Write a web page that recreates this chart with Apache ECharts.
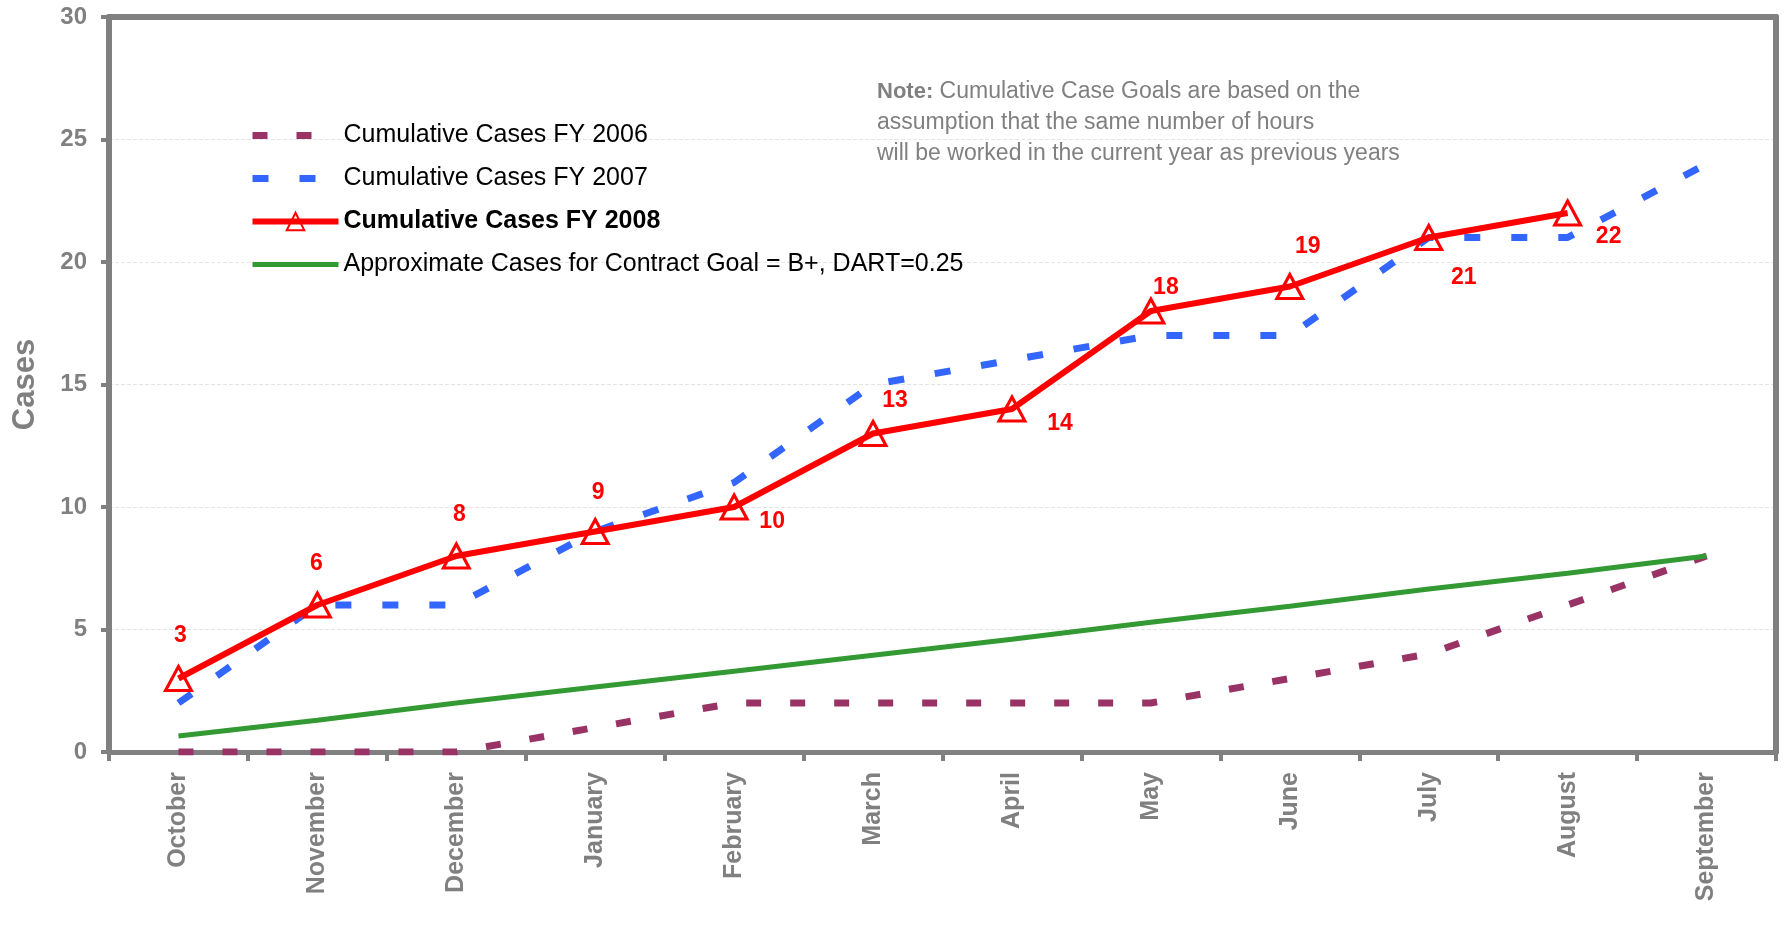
<!DOCTYPE html>
<html>
<head>
<meta charset="utf-8">
<script src="https://cdn.jsdelivr.net/npm/echarts@6/dist/echarts.min.js"></script>
<style>
    html, body { margin: 0; padding: 0; background: #fff; }
    #main { width: 1787px; height: 926px; }
</style>
</head>
<body>
<div id="main"></div>
<script>
    // months of the fiscal year
    let months = ['October', 'November', 'December', 'January', 'February', 'March',
        'April', 'May', 'June', 'July', 'August', 'September'];

    let cases2006 = [0, 0, 0, 1, 2, 2, 2, 2, 3, 4, 6, 8];
    let cases2007 = [2, 6, 6, 9, 11, 15, 16, 17, 17, 21, 21, 24];
    let cases2008 = [3, 6, 8, 9, 10, 13, 14, 18, 19, 21, 22, null];
    let goalCases = [0.65, 1.3, 2.0, 2.65, 3.3, 3.95, 4.6, 5.3, 5.95, 6.65, 7.3, 8.0];

    let yTicks = [0, 5, 10, 15, 20, 25, 30];

    // where each FY2008 label sits relative to its point
    let labelOffsets = [[2, -43], [-1, -41], [3, -41], [3, -39], [38, 15], [22, -33],
        [48, 15], [15, -23], [18, -40], [35, 40], [41, 24]];

    let names = ['Cumulative Cases FY 2006', 'Cumulative Cases FY 2007',
        'Cumulative Cases FY 2008', 'Approximate Cases for Contract Goal = B+, DART=0.25'];

    let gray = '#808080';
    let font = '"Liberation Sans", Arial, sans-serif';

    let myChart = echarts.init(document.getElementById('main'));

    let data2008 = cases2008.map(function (v, i) {
        if (v === null) return null;
        return {
            value: v,
            label: { offset: labelOffsets[i] }
        };
    });

    let dataGoal = goalCases.map(function (v, i) {
        if (i === goalCases.length - 1) {
            return {
                value: v,
                label: {
                    show: true,
                    formatter: 'B+',
                    position: 'inside',
                    offset: [-61, -66],
                    color: '#339933',
                    fontWeight: 'bold',
                    fontSize: 23,
                    fontFamily: font
                }
            };
        }
        return v;
    });

    let option = {
        animation: false,
        backgroundColor: '#fff',
        grid: {
            left: 109,
            right: 11,
            top: 17,
            bottom: 174
        },
        legend: {
            orient: 'vertical',
            left: 244,
            top: 118,
            itemWidth: 86,
            itemHeight: 22,
            itemGap: 18,
            lineStyle: { width: 'inherit' },
            data: [
                { name: names[0], itemStyle: { opacity: 0 } },
                { name: names[1], itemStyle: { opacity: 0 } },
                { name: names[2] },
                { name: names[3], itemStyle: { opacity: 0 } }
            ],
            textStyle: {
                color: '#000',
                fontSize: 25,
                fontFamily: font,
                rich: {
                    b: { fontWeight: 'bold', fontSize: 25, fontFamily: font, color: '#000' }
                }
            },
            formatter: function (name) {
                if (name === names[2]) return '{b|' + name + '}';
                return name;
            }
        },
        graphic: [
            {
                type: 'text',
                left: 877,
                top: 76,
                style: {
                    text: '{b|Note:} Cumulative Case Goals are based on the\nassumption that the same number of hours\nwill be worked in the current year as previous years',
                    fill: gray,
                    font: '23px ' + font,
                    lineHeight: 31,
                    rich: {
                        b: { fontWeight: 'bold', fontSize: 22, fontFamily: font, fill: gray, lineHeight: 31 }
                    }
                }
            }
        ],
        xAxis: [
            {
                type: 'category',
                data: months,
                boundaryGap: true,
                axisLine: { lineStyle: { color: gray, width: 5 } },
                axisTick: { show: true, length: 9, lineStyle: { color: gray, width: 4 } },
                axisLabel: {
                    rotate: 90,
                    margin: 20,
                    color: gray,
                    fontWeight: 'bold',
                    fontSize: 25,
                    fontFamily: font
                }
            },
            {
                // top edge of the plot box
                type: 'category',
                data: months,
                position: 'top',
                axisLine: { onZero: false, lineStyle: { color: gray, width: 6 } },
                axisTick: { show: false },
                axisLabel: { show: false }
            }
        ],
        yAxis: [
            {
                type: 'value',
                min: 0,
                max: 30,
                interval: 5,
                name: 'Cases',
                nameLocation: 'middle',
                nameGap: 68,
                nameTextStyle: { color: gray, fontWeight: 'bold', fontSize: 31, fontFamily: font },
                axisLine: { show: true, lineStyle: { color: gray, width: 6 } },
                axisTick: { show: true, length: 8, lineStyle: { color: gray, width: 4 } },
                axisLabel: {
                    margin: 22,
                    color: gray,
                    fontWeight: 'bold',
                    fontSize: 24,
                    fontFamily: font,
                    formatter: function (v) { return yTicks.indexOf(v) > -1 ? String(v) : ''; }
                },
                splitLine: { show: true, lineStyle: { color: '#e4e4e4', type: 'dashed', width: 1 } }
            },
            {
                // right edge of the plot box
                type: 'value',
                min: 0,
                max: 30,
                interval: 5,
                position: 'right',
                axisLine: { show: true, onZero: false, lineStyle: { color: gray, width: 6 } },
                axisTick: { show: false },
                axisLabel: { show: false },
                splitLine: { show: false }
            }
        ],
        series: [
            {
                name: names[0],
                type: 'line',
                data: cases2006,
                symbol: 'none',
                z: 2,
                itemStyle: { color: '#993366' },
                lineStyle: { color: '#993366', width: 7, type: [15, 29] }
            },
            {
                name: names[1],
                type: 'line',
                data: cases2007,
                symbol: 'none',
                z: 2,
                itemStyle: { color: '#3366ff' },
                lineStyle: { color: '#3366ff', width: 7, type: [16, 31] }
            },
            {
                name: names[3],
                type: 'line',
                data: dataGoal,
                symbol: 'none',
                z: 3,
                itemStyle: { color: '#339933' },
                lineStyle: { color: '#339933', width: 5 }
            },
            {
                name: names[2],
                type: 'line',
                data: data2008,
                symbol: 'triangle',
                symbolSize: [26, 24],
                z: 4,
                itemStyle: { color: 'rgba(255,255,255,0)', borderColor: '#ff0000', borderWidth: 3 },
                lineStyle: { color: '#ff0000', width: 6 },
                label: {
                    show: true,
                    position: 'inside',
                    color: '#ff0000',
                    fontWeight: 'bold',
                    fontSize: 23,
                    fontFamily: font
                }
            }
        ]
    };

    myChart.setOption(option);
</script>
</body>
</html>
